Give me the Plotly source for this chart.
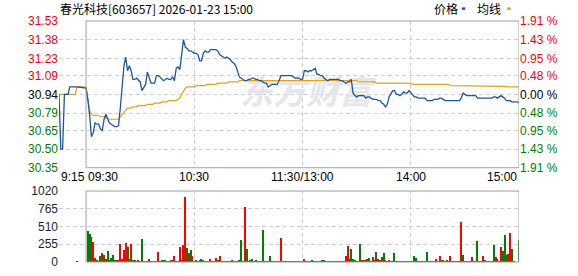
import plotly.graph_objects as go

# ---------------- data ----------------
stock_title = "春光科技[603657] 2026-01-23 15:00"
pre_close = 30.94

price_ticks = [30.35, 30.50, 30.65, 30.79, 30.94, 31.09, 31.23, 31.38, 31.53]
pct_labels = ["1.91 %", "1.43 %", "0.95 %", "0.48 %", "0.00 %", "0.48 %", "0.95 %", "1.43 %", "1.91 %"]
vol_ticks = [0, 255, 510, 765, 1020]
time_labels = ["9:15", "09:30", "10:30", "11:30/13:00", "14:00", "15:00"]

# call auction 09:15 .. 09:25
auction_price = [30.94, 30.50, 30.50, 30.94, 30.94, 30.94, 31.00, 31.00, 31.00, 31.00, 31.00]
auction_avg = [30.94, 30.94, 30.94, 30.94, 30.94, 30.94, 30.94, 30.94, 30.94, 30.94, 31.00]
auction_vol = 12

# continuous session 09:30 .. 11:30, 13:01 .. 15:00 (241 minutes)
price = [
    30.99, 30.90, 30.77, 30.60, 30.63, 30.71, 30.70, 30.70, 30.66, 30.65,
    30.74, 30.78, 30.74, 30.71, 30.70, 30.69, 30.68, 30.68, 30.69, 30.83,
    31.02, 31.17, 31.24, 31.13, 31.17, 31.13, 31.06, 31.06, 31.07, 31.05,
    31.04, 30.97, 31.00, 31.02, 31.12, 31.07, 31.03, 31.03, 31.03, 31.09,
    31.09, 31.08, 31.06, 31.05, 31.06, 31.07, 31.06, 31.06, 31.08, 31.05,
    31.15, 31.16, 31.14, 31.25, 31.38, 31.32, 31.31, 31.29, 31.29, 31.28,
    31.27, 31.27, 31.26, 31.21, 31.21, 31.27, 31.29, 31.28, 31.28, 31.30,
    31.30, 31.30, 31.30, 31.29, 31.26, 31.25, 31.24, 31.23, 31.24, 31.23,
    31.22, 31.20, 31.19, 31.17, 31.12, 31.08, 31.07, 31.06, 31.05, 31.05,
    31.06, 31.06, 31.07, 31.07, 31.06, 31.06, 31.05, 31.05, 31.04, 31.03,
    31.03, 31.00, 31.01, 31.02, 31.02, 31.02, 31.02, 31.05, 31.09, 31.09,
    31.09, 31.09, 31.09, 31.09, 31.09, 31.08, 31.07, 31.07, 31.07, 31.06,
    31.06,
    31.13, 31.13, 31.12, 31.13, 31.13, 31.14, 31.15, 31.10, 31.10, 31.09,
    31.09, 31.07, 31.06, 31.05, 31.06, 31.06, 31.06, 31.06, 31.06, 31.06,
    31.05, 31.05, 31.04, 31.03, 31.04, 31.04, 31.06, 30.95, 30.93, 30.92,
    30.93, 30.93, 30.93, 30.93, 30.91, 30.92, 30.92, 30.91, 30.90, 30.90,
    30.90, 30.89, 30.89, 30.87, 30.86, 30.84, 30.86, 30.92, 30.95, 30.97,
    30.97, 30.94, 30.94, 30.93, 30.94, 30.96, 30.95, 30.95, 30.97, 30.95,
    30.93, 30.92, 30.92, 30.91, 30.91, 30.91, 30.91, 30.91, 30.89, 30.89,
    30.89, 30.89, 30.90, 30.90, 30.90, 30.91, 30.91, 30.90, 30.89, 30.89,
    30.89, 30.89, 30.89, 30.89, 30.89, 30.89, 30.89, 30.91, 30.95, 30.94,
    30.93, 30.93, 30.93, 30.93, 30.93, 30.93, 30.91, 30.91, 30.91, 30.91,
    30.91, 30.91, 30.91, 30.91, 30.91, 30.92, 30.92, 30.91, 30.92, 30.93,
    30.92, 30.91, 30.89, 30.89, 30.89, 30.88, 30.88, 30.88, 30.88, 30.87,
]
avg_price = [
    31.00, 30.90, 30.81, 30.78, 30.77, 30.77, 30.77, 30.77, 30.76, 30.76,
    30.76, 30.75, 30.75, 30.74, 30.74, 30.74, 30.74, 30.74, 30.74, 30.76,
    30.78, 30.80, 30.82, 30.83, 30.83, 30.83, 30.84, 30.84, 30.84, 30.85,
    30.85, 30.85, 30.85, 30.85, 30.86, 30.86, 30.86, 30.86, 30.87, 30.87,
    30.87, 30.87, 30.88, 30.88, 30.88, 30.88, 30.89, 30.89, 30.89, 30.89,
    30.89, 30.90, 30.91, 30.94, 30.97, 30.99, 31.00, 31.00, 31.00, 31.00,
    31.00, 31.01, 31.01, 31.01, 31.01, 31.01, 31.01, 31.02, 31.02, 31.02,
    31.02, 31.02, 31.02, 31.03, 31.03, 31.03, 31.03, 31.03, 31.03, 31.04,
    31.04, 31.04, 31.04, 31.04, 31.04, 31.05, 31.05, 31.05, 31.05, 31.05,
    31.05, 31.05, 31.05, 31.05, 31.05, 31.05, 31.05, 31.05, 31.05, 31.05,
    31.05, 31.05, 31.05, 31.05, 31.05, 31.05, 31.05, 31.05, 31.05, 31.05,
    31.05, 31.05, 31.05, 31.05, 31.05, 31.05, 31.05, 31.05, 31.05, 31.05,
    31.05,
    31.05, 31.05, 31.05, 31.05, 31.05, 31.05, 31.05, 31.05, 31.05, 31.05,
    31.05, 31.05, 31.05, 31.05, 31.05, 31.05, 31.05, 31.05, 31.05, 31.05,
    31.05, 31.05, 31.05, 31.05, 31.05, 31.05, 31.05, 31.05, 31.05, 31.05,
    31.04, 31.04, 31.04, 31.04, 31.04, 31.04, 31.04, 31.04, 31.04, 31.04,
    31.03, 31.03, 31.03, 31.03, 31.03, 31.03, 31.03, 31.03, 31.03, 31.03,
    31.03, 31.03, 31.03, 31.03, 31.03, 31.03, 31.03, 31.03, 31.03, 31.03,
    31.02, 31.02, 31.02, 31.02, 31.02, 31.02, 31.02, 31.02, 31.02, 31.02,
    31.02, 31.02, 31.02, 31.02, 31.02, 31.02, 31.02, 31.02, 31.02, 31.02,
    31.02, 31.01, 31.01, 31.01, 31.01, 31.01, 31.01, 31.01, 31.01, 31.01,
    31.01, 31.01, 31.01, 31.01, 31.01, 31.01, 31.005, 31.005, 31.005, 31.005,
    31.005, 31.005, 31.005, 31.005, 31.005, 31.005, 31.005, 31.005, 31.005, 31.005,
    31.005, 31.005, 31.00, 31.00, 31.00, 31.00, 31.00, 31.00, 31.00, 31.00,
]
# volume per minute 09:31 .. 11:30, 13:01 .. 15:00 (240 bars); 1 = up (red), 0 = down (green)
volume = [
    440, 407, 356, 281, 56, 33, 9, 89, 126, 98,
    47, 159, 20, 56, 103, 20, 15, 19, 253, 47,
    173, 267, 220, 42, 253, 19, 33, 9, 19, 9,
    337, 9, 9, 9, 38, 9, 9, 9, 9, 150,
    9, 19, 19, 19, 9, 9, 19, 19, 89, 9,
    9, 220, 33, 243, 936, 206, 122, 173, 80, 9,
    33, 9, 28, 42, 19, 9, 9, 9, 47, 9,
    9, 56, 33, 80, 9, 9, 9, 9, 9, 9,
    33, 9, 9, 9, 19, 309, 9, 797, 183, 9,
    19, 42, 9, 28, 9, 9, 9, 463, 9, 9,
    9, 89, 9, 9, 9, 9, 9, 351, 9, 9,
    9, 9, 9, 9, 9, 9, 9, 9, 9, 9,
    42, 9, 9, 9, 28, 9, 9, 9, 9, 9,
    28, 28, 9, 9, 9, 9, 9, 9, 9, 9,
    9, 9, 9, 84, 225, 42, 183, 42, 28, 9,
    9, 253, 28, 28, 19, 42, 56, 9, 70, 28,
    140, 42, 19, 70, 126, 19, 9, 19, 9, 9,
    126, 9, 9, 9, 9, 9, 9, 9, 9, 9,
    9, 84, 56, 9, 9, 9, 9, 9, 140, 9,
    9, 9, 9, 42, 9, 84, 19, 28, 9, 19,
    9, 84, 9, 9, 9, 9, 9, 580, 98, 9,
    9, 9, 9, 70, 9, 9, 300, 9, 9, 84,
    28, 9, 9, 9, 9, 239, 70, 42, 9, 210,
    159, 393, 98, 112, 421, 187, 9, 0, 0, 313,
]
volume_up = [
    0, 0, 0, 1, 1, 0, 0, 0, 1, 0,
    1, 0, 0, 0, 0, 0, 1, 1, 1, 1,
    1, 1, 0, 0, 1, 0, 0, 0, 1, 1,
    0, 1, 1, 1, 1, 1, 1, 1, 0, 1,
    0, 0, 0, 0, 0, 1, 0, 1, 1, 0,
    1, 1, 0, 1, 1, 0, 1, 0, 1, 1,
    0, 1, 0, 0, 0, 1, 1, 1, 1, 0,
    1, 1, 0, 1, 0, 1, 0, 0, 1, 1,
    1, 0, 1, 1, 0, 0, 1, 1, 0, 1,
    0, 0, 1, 0, 1, 1, 1, 0, 1, 1,
    1, 0, 1, 1, 1, 1, 1, 1, 1, 1,
    1, 1, 1, 1, 1, 1, 1, 1, 1, 1,
    1, 1, 1, 1, 0, 1, 1, 1, 1, 1,
    0, 0, 1, 0, 1, 1, 0, 1, 1, 1,
    1, 0, 1, 1, 1, 1, 0, 0, 0, 1,
    1, 0, 1, 1, 1, 0, 0, 1, 1, 1,
    0, 1, 1, 0, 0, 1, 1, 1, 1, 1,
    0, 1, 1, 0, 1, 1, 1, 0, 1, 1,
    0, 0, 0, 1, 1, 1, 0, 1, 0, 1,
    1, 1, 1, 1, 1, 1, 0, 1, 0, 0,
    1, 1, 0, 1, 1, 1, 1, 1, 0, 1,
    1, 1, 1, 1, 1, 1, 0, 1, 1, 1,
    0, 1, 1, 1, 1, 0, 1, 1, 1, 1,
    0, 0, 0, 1, 1, 0, 1, 1, 1, 0,
]

# ---------------- time scale ----------------
def t2x(t):
    """trading-minute position, 09:15 -> 0, lunch break removed"""
    h, m = map(int, t.split("/")[0].split(":"))
    mins = h * 60 + m
    if mins <= 11 * 60 + 30:
        return mins - (9 * 60 + 15)
    return mins - 13 * 60 + 135

def hm(total):
    return f"{total // 60:02d}:{total % 60:02d}"

auction_times = [hm(9 * 60 + 15 + i) for i in range(len(auction_price))]
session_times = [hm(9 * 60 + 30 + i) for i in range(121)] + [hm(13 * 60 + 1 + i) for i in range(120)]
vol_times = session_times[1:]

px_line = [t2x(t) for t in auction_times + session_times]
y_price = auction_price + price
y_avg = auction_avg + avg_price
vol_x = [t2x("09:25")] + [t2x(t) for t in vol_times]
vol_y = [auction_vol] + volume
vol_c = ["#ff0000"] + ["#ff0000" if u else "#008000" for u in volume_up]

X_MIN, X_MAX = t2x("09:15"), t2x("15:00")
OPEN_X = t2x("09:30")

# ---------------- figure ----------------
W, H = 578, 276
ML, MR, MT, MB = 59, 59, 21, 7
PW, PH = W - ML - MR, H - MT - MB
def pxx(x):
    return (x - ML) / PW
def pxy(y):
    return (H - MB - y) / PH

RED, GREEN, BLACK = "#ff0000", "#008000", "#000000"
BLUE_LINE, GOLD_LINE = "#1a56a8", "#dea31c"
GRID = "#d0d0d0"
FRAME = "#a0a0a0"
TICKFONT = dict(family="Liberation Sans, Arial, sans-serif", size=12)

def col_for(v):
    if abs(v - pre_close) < 1e-6:
        return BLACK
    return RED if v > pre_close else GREEN

left_text = [f"<span style='color:{col_for(v)}'>{v:.2f}</span>" for v in price_ticks]
right_text = [f"<span style='color:{col_for(v)}'>{s}</span>" for v, s in zip(price_ticks, pct_labels)]

fig = go.Figure()

# watermark (under the data)
fig.add_trace(go.Scatter(
    x=[t2x("13:02")], y=[30.925], mode="text", text=["东方财富"],
    textfont=dict(family="Noto Sans CJK SC", size=33, color="#e6e6ea", weight="bold", style="italic"),
    hoverinfo="skip", showlegend=False, xaxis="x", yaxis="y"))

fig.add_trace(go.Scatter(x=px_line, y=y_avg, mode="lines",
                         line=dict(color=GOLD_LINE, width=1.2), name="均线",
                         showlegend=False, xaxis="x", yaxis="y"))
fig.add_trace(go.Scatter(x=px_line, y=y_price, mode="lines",
                         line=dict(color=BLUE_LINE, width=1.3), name="价格",
                         showlegend=False, xaxis="x", yaxis="y"))
# invisible trace carrying the right-hand percentage axis
fig.add_trace(go.Scatter(x=[X_MIN, X_MAX], y=[price_ticks[0], price_ticks[-1]], mode="lines",
                         line=dict(width=0, color="rgba(0,0,0,0)"), hoverinfo="skip",
                         showlegend=False, xaxis="x", yaxis="y3"))

fig.add_trace(go.Bar(x=vol_x, y=vol_y, marker=dict(color=vol_c, line=dict(width=0)),
                     width=0.6, showlegend=False, xaxis="x2", yaxis="y2"))

grid_x = [t2x(t) for t in time_labels[:-1] if t != "09:30"]

common_x = dict(range=[X_MIN, X_MAX], tickvals=grid_x, showticklabels=False,
                showgrid=True, gridcolor=GRID, griddash="4px,3px", gridwidth=1,
                zeroline=False, showline=False, ticks="", fixedrange=True)
fig.update_layout(
    width=W, height=H, autosize=False,
    margin=dict(l=ML, r=MR, t=MT, b=MB, pad=0),
    paper_bgcolor="white", plot_bgcolor="white",
    showlegend=False, bargap=0,
    xaxis=dict(domain=[0, 1], anchor="y", **common_x),
    xaxis2=dict(domain=[0, 1], anchor="y2", matches="x", **common_x),
    yaxis=dict(domain=[pxy(172), 1], range=[price_ticks[0], price_ticks[-1]],
               tickvals=price_ticks, ticktext=left_text, tickfont=TICKFONT,
               showgrid=True, gridcolor=GRID, griddash="4px,3px", zeroline=False,
               showline=False, ticks="", anchor="x", fixedrange=True),
    yaxis3=dict(overlaying="y", side="right", anchor="x",
                range=[price_ticks[0], price_ticks[-1]],
                tickvals=price_ticks, ticktext=right_text, tickfont=TICKFONT,
                showgrid=False, zeroline=False, showline=False, ticks="", fixedrange=True),
    yaxis2=dict(domain=[0, pxy(196)], range=[vol_ticks[0], vol_ticks[-1]],
                tickvals=vol_ticks, ticktext=[str(v) for v in vol_ticks],
                tickfont=dict(TICKFONT, color="#1e1e30"),
                showgrid=True, gridcolor=GRID, griddash="4px,3px", zeroline=False,
                showline=False, ticks="", anchor="x2", fixedrange=True),
)

# frames (solid from 09:30 to 15:00)
for xr, yr in (("x", "y domain"), ("x2", "y2 domain")):
    fig.add_shape(type="rect", xref=xr, yref=yr, x0=OPEN_X, x1=X_MAX, y0=0, y1=1,
                  line=dict(color=FRAME, width=1), fillcolor="rgba(0,0,0,0)", layer="above")

# time labels
anchors = {"9:15": "left", "09:30": "left", "15:00": "right"}
for t in time_labels:
    fig.add_annotation(x=t2x(t), xref="x", y=pxy(182), yref="paper", text=t,
                       showarrow=False, xanchor=anchors.get(t, "center"), yanchor="middle",
                       font=dict(TICKFONT, color=BLACK))

# title
fig.add_annotation(x=pxx(58), xref="paper", y=pxy(8.5), yref="paper", text=stock_title,
                   showarrow=False, xanchor="left", yanchor="middle",
                   font=dict(family="Noto Sans CJK SC", size=12, color=BLACK))
# legend
for label, x_left, colr, mx in (("价格", 431.5, BLUE_LINE, 461.8), ("均线", 475, GOLD_LINE, 507.2)):
    fig.add_annotation(x=pxx(x_left), xref="paper", y=pxy(8.5), yref="paper", text=label,
                       showarrow=False, xanchor="left", yanchor="middle",
                       font=dict(family="Noto Sans CJK SC", size=12, color=BLACK))
    fig.add_shape(type="rect", xref="paper", yref="paper",
                  x0=pxx(mx), x1=pxx(mx + 3.5), y0=pxy(9.5), y1=pxy(7),
                  line=dict(width=0), fillcolor=colr)

fig.write_html("out.html")
